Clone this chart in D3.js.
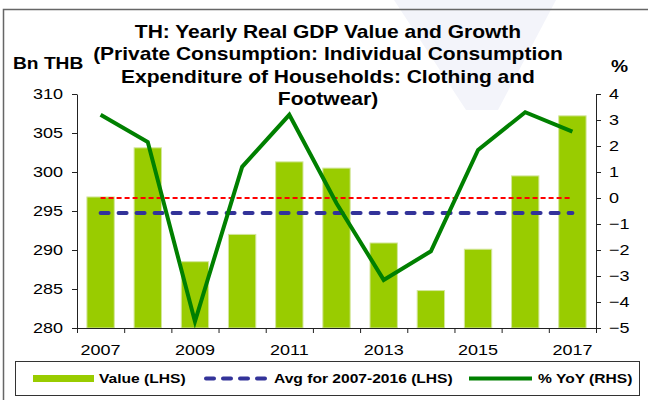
<!DOCTYPE html>
<html>
<head>
<meta charset="utf-8">
<script src="https://cdn.jsdelivr.net/npm/d3@7"></script>
<style>
  body { margin: 0; background: #fff; }
  svg { display: block; font-family: "Liberation Sans", Arial, sans-serif; }
</style>
</head>
<body>
<div id="container"></div>
<script>
/* DATA */
const years = [2007, 2008, 2009, 2010, 2011, 2012, 2013, 2014, 2015, 2016, 2017];
const values = [296.8, 303.1, 288.5, 292.0, 301.3, 300.5, 290.9, 284.8, 290.1, 299.5, 307.2];
const yoy = [3.2, 2.15, -4.75, 1.2, 3.2, -0.2, -3.15, -2.05, 1.85, 3.3, 2.55];
const avgYears = [2007, 2016];
const leftTicks = [280, 285, 290, 295, 300, 305, 310];
const rightTicks = [-5, -4, -3, -2, -1, 0, 1, 2, 3, 4];
const xLabels = [2007, 2009, 2011, 2013, 2015, 2017];
const titleLines = ["TH: Yearly Real GDP Value and Growth",
  "(Private Consumption: Individual Consumption",
  "Expenditure of Households: Clothing and",
  "Footwear)"];
const legendLabels = ["Value (LHS)", "Avg for 2007-2016 (LHS)", "% YoY (RHS)"];

// average of 2007-2016
const avgValue = d3.mean(values.filter((v, i) => years[i] >= avgYears[0] && years[i] <= avgYears[1]));

/* CONSTANTS */
const width = 648, height = 400;
const plot = {left: 77, right: 596, top: 94, bottom: 328};
const sx = 1.2; // text looks horizontally stretched in the original
const barColor = "#99cc00", lineColor = "#008000", avgColor = "#333399", zeroColor = "#ff0000";

const svg = d3.select("#container").append("svg")
  .attr("width", width)
  .attr("height", height);

// faint watermark
svg.append("path")
  .attr("d", "M394,0 L556,0 L498,110 L466,110 Z")
  .attr("fill", "#f3f4fa");

// outer frame (left + top only visible)
svg.append("path")
  .attr("d", `M3.5,${height} L3.5,9.5 L${width},9.5`)
  .attr("fill", "none")
  .attr("stroke", "#666")
  .attr("stroke-width", 1.5);

// SCALES
const x = d3.scaleBand()
  .domain(years)
  .range([plot.left, plot.right])
  .paddingInner(0.42)
  .paddingOuter(0.21);

const xEdge = d3.scaleLinear()
  .domain([0, years.length])
  .range([plot.left, plot.right]);

const yL = d3.scaleLinear().domain([280, 310]).range([plot.bottom, plot.top]);
const yR = d3.scaleLinear().domain([-5, 4]).range([plot.bottom, plot.top]);

const cx = d => x(d) + x.bandwidth() / 2;

// BARS
svg.append("g")
  .selectAll("rect")
  .data(years)
  .join("rect")
  .attr("x", d => x(d))
  .attr("y", (d, i) => yL(values[i]))
  .attr("width", x.bandwidth())
  .attr("height", (d, i) => plot.bottom - yL(values[i]))
  .attr("fill", barColor)
  .attr("stroke", "#d3e69c")
  .attr("stroke-width", 1);

// zero line (RHS)
svg.append("line")
  .attr("x1", cx(years[0])).attr("x2", cx(years[years.length - 1]))
  .attr("y1", yR(0)).attr("y2", yR(0))
  .attr("stroke", zeroColor)
  .attr("stroke-width", 2)
  .attr("stroke-dasharray", "5,3");

// average line (LHS)
svg.append("line")
  .attr("x1", cx(years[0])).attr("x2", cx(years[years.length - 1]))
  .attr("y1", yL(avgValue)).attr("y2", yL(avgValue))
  .attr("stroke", avgColor)
  .attr("stroke-width", 4)
  .attr("stroke-linecap", "round")
  .attr("stroke-dasharray", "8,10");

// YoY line (RHS)
const line = d3.line()
  .x((d, i) => cx(years[i]))
  .y(d => yR(d));

svg.append("path")
  .datum(yoy)
  .attr("fill", "none")
  .attr("stroke", lineColor)
  .attr("stroke-width", 4)
  .attr("stroke-linejoin", "miter")
  .attr("d", line);

// AXES
const axisStyle = g => {
  g.select(".domain").attr("stroke", "#222");
  g.selectAll(".tick line").attr("stroke", "#222");
  g.selectAll("text")
    .attr("font-size", 15)
    .attr("fill", "#000")
    .attr("font-family", "Liberation Sans, Arial, sans-serif")
    .attr("transform", `scale(${sx},1)`);
};

svg.append("g")
  .attr("transform", `translate(${plot.left},0)`)
  .call(d3.axisLeft(yL).tickValues(leftTicks).tickSize(5).tickSizeOuter(0).tickPadding(6.7))
  .call(axisStyle);

svg.append("g")
  .attr("transform", `translate(${plot.right},0)`)
  .call(d3.axisRight(yR).tickValues(rightTicks).tickSize(5).tickSizeOuter(0).tickPadding(5.8))
  .call(axisStyle);

// x axis: ticks at category edges
svg.append("g")
  .attr("transform", `translate(0,${plot.bottom})`)
  .call(d3.axisBottom(xEdge).tickValues(d3.range(0, years.length + 1)).tickFormat("").tickSize(5).tickSizeOuter(0))
  .call(axisStyle);

// x labels
svg.append("g")
  .attr("transform", `translate(0,${plot.bottom})`)
  .call(d3.axisBottom(x).tickValues(xLabels).tickSize(0).tickPadding(16))
  .call(g => g.select(".domain").remove())
  .call(axisStyle);

// TEXTS
const stretchedText = (tx, ty, txt, size, anchor) => {
  svg.append("g")
    .attr("transform", `translate(${tx},${ty}) scale(${sx},1)`)
    .append("text")
    .attr("text-anchor", anchor || "start")
    .attr("font-size", size)
    .attr("font-weight", "bold")
    .attr("fill", "#000")
    .text(txt);
};

titleLines.forEach((t, i) => stretchedText(328, 38 + i * 22.3, t, 17.5, "middle"));
stretchedText(13, 69, "Bn THB", 16);
stretchedText(611, 72, "%", 16);

// LEGEND
const legend = svg.append("g");
legend.append("rect")
  .attr("x", 15.5).attr("y", 361.5)
  .attr("width", 624).attr("height", 34)
  .attr("fill", "#fff")
  .attr("stroke", "#333");

const legY = 378.5;
legend.append("rect")
  .attr("x", 33).attr("y", legY - 3.5)
  .attr("width", 61).attr("height", 7)
  .attr("fill", barColor);
legend.append("line")
  .attr("x1", 206).attr("x2", 266)
  .attr("y1", legY).attr("y2", legY)
  .attr("stroke", avgColor)
  .attr("stroke-width", 4)
  .attr("stroke-linecap", "round")
  .attr("stroke-dasharray", "8,9");
legend.append("line")
  .attr("x1", 469).attr("x2", 532)
  .attr("y1", legY).attr("y2", legY)
  .attr("stroke", lineColor)
  .attr("stroke-width", 4);

const legX = [99, 274, 538];
legendLabels.forEach((t, i) => stretchedText(legX[i], legY + 4.6, t, 13));
</script>
</body>
</html>
